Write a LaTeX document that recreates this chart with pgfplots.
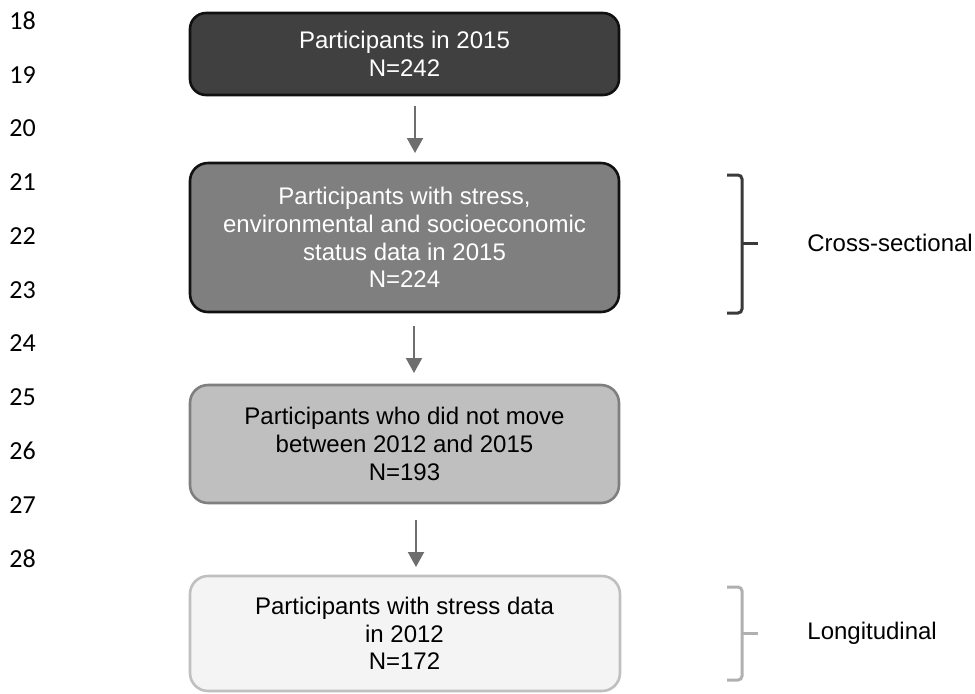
\documentclass[border=0pt]{standalone}
\usepackage{pgfplots}
\pgfplotsset{compat=1.18}
\usepackage{fontspec}
\setmainfont{Liberation Sans}
\newfontfamily\carlito{Carlito}
\usetikzlibrary{arrows.meta}
\definecolor{boxA}{HTML}{404040}
\definecolor{boxB}{HTML}{7F7F7F}
\definecolor{boxC}{HTML}{BFBFBF}
\definecolor{boxD}{HTML}{F4F4F4}
\definecolor{edgeA}{HTML}{111111}
\definecolor{edgeC}{HTML}{7F7F7F}
\definecolor{edgeD}{HTML}{BFBFBF}
\definecolor{arrowc}{HTML}{6E6E6E}
\definecolor{brackA}{HTML}{3A3A3A}
\definecolor{brackB}{HTML}{B0B0B0}
\tikzset{
  boxtxt/.style={font=\fontsize{12}{13.8}\selectfont, align=center, inner sep=0pt},
  sidetxt/.style={font=\fontsize{12}{13.8}\selectfont, anchor=west, inner sep=0pt},
  lnum/.style={font=\carlito\fontsize{13}{15}\selectfont, anchor=west, inner sep=0pt},
}
\begin{document}
\begin{tikzpicture}
\begin{axis}[
  width=487.5pt, height=346.5pt, scale only axis,
  xmin=0, xmax=975, ymin=0, ymax=693, y dir=reverse,
  hide axis, clip=false,
]
\path (rel axis cs:0,0) rectangle (rel axis cs:1,1);
% boxes
\addplot[fill=boxA, draw=edgeA, line width=1.3pt, rounded corners=8pt]
  coordinates {(190,13) (619,13) (619,95) (190,95)} -- cycle;
\addplot[fill=boxB, draw=edgeA, line width=1.3pt, rounded corners=9pt]
  coordinates {(190,163) (619,163) (619,312) (190,312)} -- cycle;
\addplot[fill=boxC, draw=edgeC, line width=1.3pt, rounded corners=9pt]
  coordinates {(190,385) (619,385) (619,503) (190,503)} -- cycle;
\addplot[fill=boxD, draw=edgeD, line width=1.3pt, rounded corners=9pt]
  coordinates {(190,576) (620,576) (620,691) (190,691)} -- cycle;
% arrows
\addplot[draw=arrowc, line width=1pt, -{Triangle[width=8pt,length=7.5pt]}]
  coordinates {(415,106) (415,153)};
\addplot[draw=arrowc, line width=1pt, -{Triangle[width=8pt,length=7.5pt]}]
  coordinates {(414,326) (414,373)};
\addplot[draw=arrowc, line width=1pt, -{Triangle[width=8pt,length=7.5pt]}]
  coordinates {(416,520) (416,567)};
% brackets
\addplot[draw=brackA, line width=1.5pt, rounded corners=2pt]
  coordinates {(727,175) (742,175) (742,313) (727,313)};
\addplot[draw=brackA, line width=1.5pt]
  coordinates {(742,243) (758,243)};
\addplot[draw=brackB, line width=1.5pt, rounded corners=2pt]
  coordinates {(727,587) (742,587) (742,680) (727,680)};
\addplot[draw=brackB, line width=1.5pt]
  coordinates {(742,633) (758,633)};
% texts
\node[boxtxt, text=white] at (axis cs:404.5,54) {Participants in 2015\\N=242};
\node[boxtxt, text=white] at (axis cs:404.5,237.5) {Participants with stress,\\environmental and socioeconomic\\status data in 2015\\N=224};
\node[boxtxt, text=black] at (axis cs:404.5,444) {Participants who did not move\\between 2012 and 2015\\N=193};
\node[boxtxt, text=black] at (axis cs:404.5,633.5) {Participants with stress data\\in 2012\\N=172};
\node[sidetxt] at (axis cs:807,243) {Cross-sectional};
\node[sidetxt] at (axis cs:807,633) {Longitudinal};
% line numbers
\node[lnum] at (axis cs:9,21) {18};
\node[lnum] at (axis cs:9,74.75) {19};
\node[lnum] at (axis cs:9,128.5) {20};
\node[lnum] at (axis cs:9,182.25) {21};
\node[lnum] at (axis cs:9,236) {22};
\node[lnum] at (axis cs:9,289.75) {23};
\node[lnum] at (axis cs:9,343.5) {24};
\node[lnum] at (axis cs:9,397.25) {25};
\node[lnum] at (axis cs:9,451) {26};
\node[lnum] at (axis cs:9,504.75) {27};
\node[lnum] at (axis cs:9,558.5) {28};
\end{axis}
\end{tikzpicture}
\end{document}
